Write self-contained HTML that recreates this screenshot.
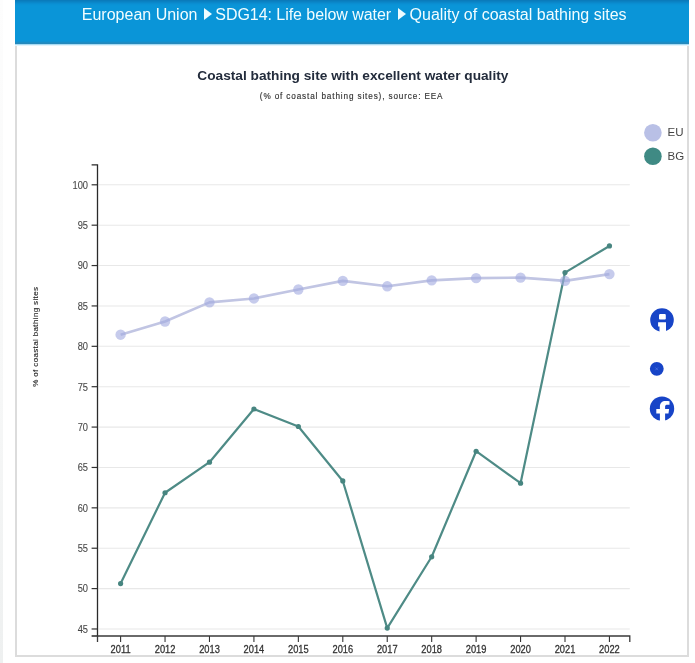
<!DOCTYPE html>
<html><head><meta charset="utf-8">
<style>
html,body{margin:0;padding:0;}
body{width:695px;height:663px;background:#fff;position:relative;overflow:hidden;font-family:"Liberation Sans",Arial,sans-serif;}
.strip{position:absolute;left:0;top:0;width:2.5px;height:663px;background:linear-gradient(#fdfdfd,#f6f7f7 60%,#eef0f0);}
.panel{position:absolute;left:15px;top:0;width:670px;height:655px;border:2px solid #dcdcdc;border-top:0;background:#fff;}
.hdr{position:absolute;left:15px;top:0;width:674px;height:44px;background:#0a95d8;background-image:linear-gradient(#0a78b8,#0a90d4 4px,#0a95d8 6px,#0a95d8 41px,#1c8cc4 42.5px,#2a88b8 44px);box-sizing:border-box;box-shadow:0 1px 0 #a8dbf3,0 2px 0 #e2f4fc;color:#f2fdff;will-change:transform;font-size:16px;line-height:1;}
.hdr span{position:absolute;top:7px;white-space:nowrap;}
.hdr i{position:absolute;top:7.9px;width:0;height:0;border-left:8.5px solid #eefcff;border-top:6.9px solid transparent;border-bottom:6.9px solid transparent;}
svg{position:absolute;left:0;top:0;will-change:transform;}
.tl{font-size:9.3px;fill:#444;stroke:#444;stroke-width:0.08px;}
.yl{font-size:8px;letter-spacing:0.36px;fill:#1e1e1e;stroke:#1e1e1e;stroke-width:0.12px;}
.title{font-size:13.7px;font-weight:bold;fill:#232c3c;}
.sub{font-size:8.2px;letter-spacing:0.86px;fill:#333;stroke:#333;stroke-width:0.15px;}
.leg{font-size:11.5px;fill:#454545;}
.xl{fill:#333;stroke:#333;stroke-width:0.25px;}
</style></head><body>
<div class="strip"></div>
<div class="panel"></div>
<div class="hdr"><span style="left:66.8px">European Union</span><i style="left:189.1px"></i><span style="left:200.3px;letter-spacing:-0.05px">SDG14: Life below water</span><i style="left:383.3px"></i><span style="left:394.6px">Quality of coastal bathing sites</span></div>
<svg width="695" height="663" viewBox="0 0 695 663" font-family="Liberation Sans, Arial, sans-serif">
<text class="title" x="197.3" y="79.7">Coastal bathing site with excellent water quality</text>
<text class="sub" x="259.8" y="98.6">(% of coastal bathing sites), source: EEA</text>
<g stroke="#e8e8e8" stroke-width="1.1"><line x1="98.5" x2="629.8" y1="628.98" y2="628.98"/><line x1="98.5" x2="629.8" y1="588.60" y2="588.60"/><line x1="98.5" x2="629.8" y1="548.22" y2="548.22"/><line x1="98.5" x2="629.8" y1="507.84" y2="507.84"/><line x1="98.5" x2="629.8" y1="467.46" y2="467.46"/><line x1="98.5" x2="629.8" y1="427.08" y2="427.08"/><line x1="98.5" x2="629.8" y1="386.70" y2="386.70"/><line x1="98.5" x2="629.8" y1="346.32" y2="346.32"/><line x1="98.5" x2="629.8" y1="305.94" y2="305.94"/><line x1="98.5" x2="629.8" y1="265.56" y2="265.56"/><line x1="98.5" x2="629.8" y1="225.18" y2="225.18"/><line x1="98.5" x2="629.8" y1="184.80" y2="184.80"/></g>
<g stroke="#333" stroke-width="1.2"><line x1="91.6" x2="97.5" y1="628.98" y2="628.98"/><line x1="91.6" x2="97.5" y1="588.60" y2="588.60"/><line x1="91.6" x2="97.5" y1="548.22" y2="548.22"/><line x1="91.6" x2="97.5" y1="507.84" y2="507.84"/><line x1="91.6" x2="97.5" y1="467.46" y2="467.46"/><line x1="91.6" x2="97.5" y1="427.08" y2="427.08"/><line x1="91.6" x2="97.5" y1="386.70" y2="386.70"/><line x1="91.6" x2="97.5" y1="346.32" y2="346.32"/><line x1="91.6" x2="97.5" y1="305.94" y2="305.94"/><line x1="91.6" x2="97.5" y1="265.56" y2="265.56"/><line x1="91.6" x2="97.5" y1="225.18" y2="225.18"/><line x1="91.6" x2="97.5" y1="184.80" y2="184.80"/></g>
<g class="tl" text-anchor="end"><text transform="translate(88,632.78) scale(1,1.16)">45</text><text transform="translate(88,592.40) scale(1,1.16)">50</text><text transform="translate(88,552.02) scale(1,1.16)">55</text><text transform="translate(88,511.64) scale(1,1.16)">60</text><text transform="translate(88,471.26) scale(1,1.16)">65</text><text transform="translate(88,430.88) scale(1,1.16)">70</text><text transform="translate(88,390.50) scale(1,1.16)">75</text><text transform="translate(88,350.12) scale(1,1.16)">80</text><text transform="translate(88,309.74) scale(1,1.16)">85</text><text transform="translate(88,269.36) scale(1,1.16)">90</text><text transform="translate(88,228.98) scale(1,1.16)">95</text><text transform="translate(88,188.60) scale(1,1.16)">100</text></g>
<g stroke="#333" stroke-width="1.1"><line x1="120.60" x2="120.60" y1="636.0" y2="642"/><line x1="165.04" x2="165.04" y1="636.0" y2="642"/><line x1="209.48" x2="209.48" y1="636.0" y2="642"/><line x1="253.92" x2="253.92" y1="636.0" y2="642"/><line x1="298.36" x2="298.36" y1="636.0" y2="642"/><line x1="342.80" x2="342.80" y1="636.0" y2="642"/><line x1="387.24" x2="387.24" y1="636.0" y2="642"/><line x1="431.68" x2="431.68" y1="636.0" y2="642"/><line x1="476.12" x2="476.12" y1="636.0" y2="642"/><line x1="520.56" x2="520.56" y1="636.0" y2="642"/><line x1="565.00" x2="565.00" y1="636.0" y2="642"/><line x1="609.44" x2="609.44" y1="636.0" y2="642"/></g>
<g class="tl xl" text-anchor="middle"><text transform="translate(120.60,652.6) scale(1,1.16)">2011</text><text transform="translate(165.04,652.6) scale(1,1.16)">2012</text><text transform="translate(209.48,652.6) scale(1,1.16)">2013</text><text transform="translate(253.92,652.6) scale(1,1.16)">2014</text><text transform="translate(298.36,652.6) scale(1,1.16)">2015</text><text transform="translate(342.80,652.6) scale(1,1.16)">2016</text><text transform="translate(387.24,652.6) scale(1,1.16)">2017</text><text transform="translate(431.68,652.6) scale(1,1.16)">2018</text><text transform="translate(476.12,652.6) scale(1,1.16)">2019</text><text transform="translate(520.56,652.6) scale(1,1.16)">2020</text><text transform="translate(565.00,652.6) scale(1,1.16)">2021</text><text transform="translate(609.44,652.6) scale(1,1.16)">2022</text></g>
<path d="M91.6,164.9 H97.5 V636.0 H91.6" fill="none" stroke="#2a2a2a" stroke-width="1.3"/>
<path d="M97.5,642 V636.0 H629.8 V642" fill="none" stroke="#3a3a3a" stroke-width="1.3"/>
<text class="yl" transform="translate(38.2,336.7) rotate(-90)" text-anchor="middle">% of coastal bathing sites</text>
<polyline points="120.60,334.69 165.04,321.53 209.48,302.39 253.92,298.43 298.36,289.46 342.80,280.90 387.24,286.32 431.68,280.34 476.12,278.16 520.56,277.67 565.00,280.90 609.44,274.12" fill="none" stroke="#c1c5e3" stroke-width="2.6" stroke-linejoin="round"/>
<polyline points="120.60,583.59 165.04,492.74 209.48,462.21 253.92,408.99 298.36,426.51 342.80,480.95 387.24,628.09 431.68,556.78 476.12,451.23 520.56,483.21 565.00,272.59 609.44,245.94" fill="none" stroke="#4e8b86" stroke-width="2.2" stroke-linejoin="round"/>
<g fill="#478580"><circle cx="120.60" cy="583.59" r="2.6"/><circle cx="165.04" cy="492.74" r="2.6"/><circle cx="209.48" cy="462.21" r="2.6"/><circle cx="253.92" cy="408.99" r="2.6"/><circle cx="298.36" cy="426.51" r="2.6"/><circle cx="342.80" cy="480.95" r="2.6"/><circle cx="387.24" cy="628.09" r="2.6"/><circle cx="431.68" cy="556.78" r="2.6"/><circle cx="476.12" cy="451.23" r="2.6"/><circle cx="520.56" cy="483.21" r="2.6"/><circle cx="565.00" cy="272.59" r="2.6"/><circle cx="609.44" cy="245.94" r="2.6"/></g>
<g fill="#a3abe0" fill-opacity="0.62"><circle cx="120.60" cy="334.69" r="5.2"/><circle cx="165.04" cy="321.53" r="5.2"/><circle cx="209.48" cy="302.39" r="5.2"/><circle cx="253.92" cy="298.43" r="5.2"/><circle cx="298.36" cy="289.46" r="5.2"/><circle cx="342.80" cy="280.90" r="5.2"/><circle cx="387.24" cy="286.32" r="5.2"/><circle cx="431.68" cy="280.34" r="5.2"/><circle cx="476.12" cy="278.16" r="5.2"/><circle cx="520.56" cy="277.67" r="5.2"/><circle cx="565.00" cy="280.90" r="5.2"/><circle cx="609.44" cy="274.12" r="5.2"/></g>
<circle cx="652.9" cy="132.7" r="8.8" fill="#b9c0e6"/>
<circle cx="652.9" cy="156.2" r="8.8" fill="#3f8a84"/>
<text class="leg" x="667.5" y="136.2">EU</text>
<text class="leg" x="667.5" y="160.2">BG</text>
<g fill="#1744c7">
<circle cx="662" cy="320" r="11.8"/>
<circle cx="656.8" cy="368.8" r="6.9"/>
<circle cx="662" cy="408.7" r="12.2"/>
</g>
<g fill="#fff">
<path d="M660.2,314 h4.4 c0.7,0 1.2,0.5 1.2,1.2 v3.2 c0,0.6 -0.5,1.1 -1.1,1.1 h-4.6 c-0.6,0 -1.1,-0.5 -1.1,-1.1 v-2.8 c0,-0.9 0.5,-1.6 1.2,-1.6 z"/>
<path d="M658.1,322.2 h7.9 v11 h-6.5 v-6.7 h-1.4 z"/>
<path d="M659.9,421.5 V413.4 H656.3 V409 H659.9 V406.6 C659.9,402.8 662.1,400.9 665.5,400.9 C667,400.9 668.5,401.1 669.5,401.3 V404.7 H667.4 C665.9,404.7 665.1,405.3 665.1,406.7 V409 H669.1 L668.5,413.4 H665.1 V421.5 Z"/>
</g>
<path d="M655.4,367.5 l2.6,2.7 M658,367.5 l-2.6,2.7" stroke="#5b80ea" stroke-width="0.6"/>
</svg>
</body></html>
